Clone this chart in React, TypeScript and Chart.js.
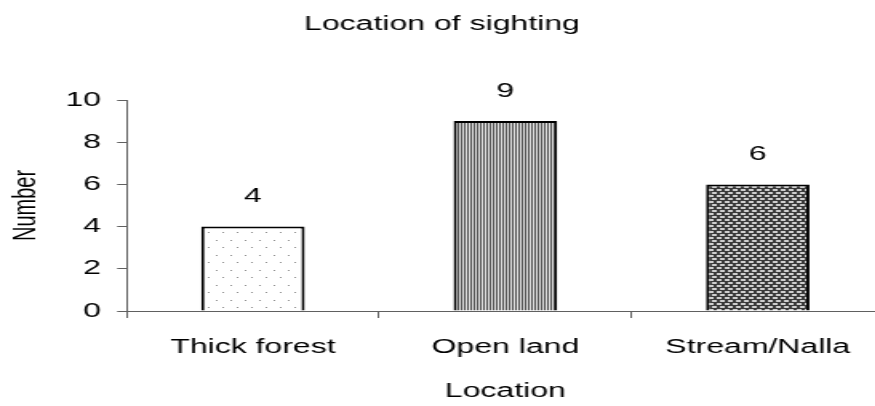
import React, { useEffect, useRef } from 'react';
import { Chart, registerables } from 'chart.js';

Chart.register(...registerables);

// Sightings by location
const categories = ['Thick forest', 'Open land', 'Stream/Nalla'];
const sightings = [4, 9, 6];
const yTicks = [0, 2, 4, 6, 8, 10];

const FONT = "'Liberation Sans', Arial, Helvetica, sans-serif";
const STRETCH = 1.6; // the chart is drawn narrow and widened horizontally
const CANVAS_W = 570;
const CANVAS_H = 406;
const AXIS_COLOR = '#606060';

function makeTile(w: number, h: number, paint: (g: CanvasRenderingContext2D) => void): CanvasPattern {
  const c = document.createElement('canvas');
  c.width = w;
  c.height = h;
  const g = c.getContext('2d') as CanvasRenderingContext2D;
  paint(g);
  return g.createPattern(c, 'repeat') as CanvasPattern;
}

// sparse dotted fill
const dotFill = () =>
  makeTile(9, 15, (g) => {
    g.fillStyle = '#ffffff';
    g.fillRect(0, 0, 9, 15);
    g.fillStyle = '#8c8c8c';
    g.fillRect(0, 0, 1, 1);
    g.fillRect(4, 7, 1, 1);
  });

// narrow vertical stripes
const stripeFill = () =>
  makeTile(2, 1, (g) => {
    g.fillStyle = '#e4e4e4';
    g.fillRect(0, 0, 2, 1);
    g.fillStyle = '#505050';
    g.fillRect(0, 0, 1, 1);
  });

// dark fill with staggered light dashes
const brickFill = () =>
  makeTile(5, 6, (g) => {
    g.fillStyle = '#3a3a3a';
    g.fillRect(0, 0, 5, 6);
    g.fillStyle = '#cfcfcf';
    g.fillRect(0, 0, 3, 2);
    g.fillRect(3, 3, 2, 2);
    g.fillRect(0, 3, 1, 2);
  });

// numbers written above each bar
const valueLabels = {
  id: 'valueLabels',
  afterDatasetsDraw(chart: any) {
    const ctx = chart.ctx as CanvasRenderingContext2D;
    const meta = chart.getDatasetMeta(0);
    ctx.save();
    ctx.font = `20px ${FONT}`;
    ctx.fillStyle = '#000';
    ctx.textAlign = 'center';
    ctx.textBaseline = 'middle';
    meta.data.forEach((bar: any, i: number) => {
      ctx.fillText(String(sightings[i]), bar.x, bar.y - 30);
    });
    ctx.restore();
  },
};

export default function App() {
  const canvasRef = useRef<HTMLCanvasElement>(null);

  useEffect(() => {
    const canvas = canvasRef.current;
    if (!canvas) return;

    const chart = new Chart(canvas, {
      type: 'bar',
      data: {
        labels: categories,
        datasets: [
          {
            data: sightings,
            backgroundColor: [dotFill(), stripeFill(), brickFill()],
            borderColor: '#000',
            borderWidth: 2,
            barPercentage: 0.41,
            categoryPercentage: 1,
          },
        ],
      },
      options: {
        responsive: false,
        maintainAspectRatio: false,
        animation: false,
        devicePixelRatio: 1,
        layout: { padding: { left: 0, right: 17.5, top: 0, bottom: 0 } },
        plugins: {
          legend: { display: false },
          tooltip: { enabled: false },
          title: {
            display: true,
            text: 'Location of sighting',
            color: '#000',
            font: { family: FONT, size: 20, weight: 'normal' },
            padding: { top: 12, bottom: 64 },
          },
        },
        scales: {
          x: {
            grid: {
              display: true,
              drawOnChartArea: false,
              drawTicks: true,
              tickLength: 7,
              offset: true,
              color: AXIS_COLOR,
            },
            border: { display: true, color: AXIS_COLOR, width: 1 },
            ticks: {
              color: '#000',
              padding: 17,
              font: { family: FONT, size: 20 },
            },
            title: {
              display: true,
              text: 'Location',
              color: '#000',
              font: { family: FONT, size: 20 },
              padding: { top: 3, bottom: 3 },
            },
          },
          y: {
            min: yTicks[0],
            max: yTicks[yTicks.length - 1],
            grid: {
              display: true,
              drawOnChartArea: false,
              drawTicks: true,
              tickLength: 6,
              color: AXIS_COLOR,
            },
            border: { display: true, color: AXIS_COLOR, width: 1 },
            ticks: {
              stepSize: yTicks[1] - yTicks[0],
              color: '#000',
              padding: 10,
              font: { family: FONT, size: 20 },
            },
            title: {
              display: true,
              text: 'Number',
              color: '#000',
              font: { family: FONT, size: 20 },
              padding: { top: 4.5, bottom: 2.5 },
            },
          },
        },
      },
      plugins: [valueLabels],
    });

    return () => chart.destroy();
  }, []);

  return (
    <div
      style={{
        position: 'fixed',
        left: 0,
        top: 0,
        width: 875,
        height: 406,
        overflow: 'hidden',
        background: '#fff',
      }}
    >
      <div
        style={{
          width: CANVAS_W,
          height: CANVAS_H,
          transform: `scaleX(${STRETCH})`,
          transformOrigin: '0 0',
        }}
      >
        <canvas
          ref={canvasRef}
          width={CANVAS_W}
          height={CANVAS_H}
          style={{ display: 'block', width: CANVAS_W, height: CANVAS_H }}
        />
      </div>
    </div>
  );
}
